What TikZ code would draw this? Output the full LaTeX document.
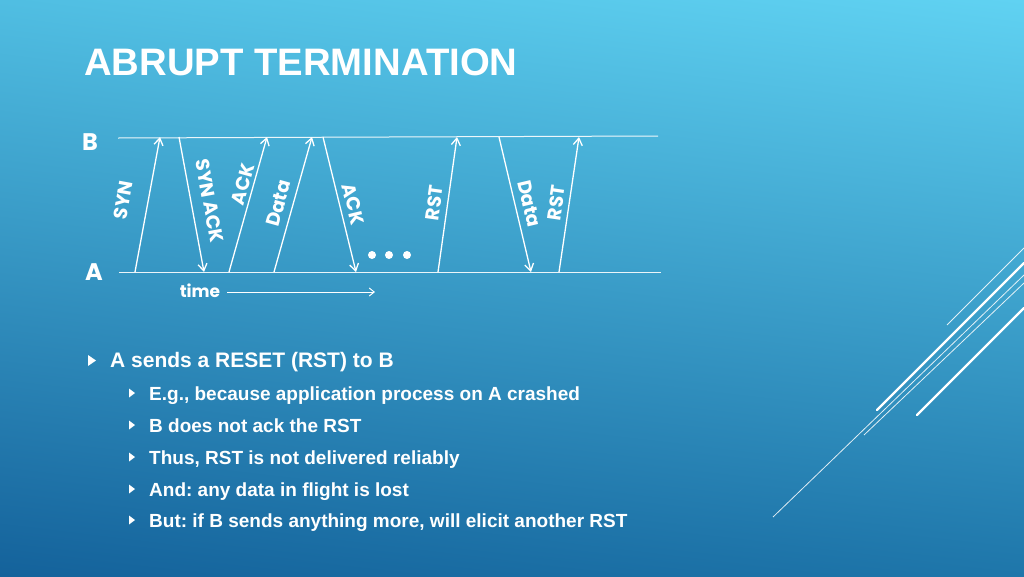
\documentclass[tikz,border=0pt]{standalone}
\usepackage{fontspec}
\setmainfont{Liberation Sans}
\newfontfamily\seqfont{Poppins}
\usetikzlibrary{arrows.meta,shadings}
\definecolor{bgul}{RGB}{80,190,226}
\definecolor{bgur}{RGB}{96,210,242}
\definecolor{bgll}{RGB}{20,98,155}
\definecolor{bglr}{RGB}{30,118,170}
\frenchspacing
\begin{document}
\begin{tikzpicture}[x=1pt,y=-1pt,
  msg/.style={white, line width=1.3pt, -{Straight Barb[length=7pt,width=9pt]}},
  lbl/.style={text=white, font=\seqfont\bfseries\fontsize{19}{19}\selectfont, inner sep=0pt, sloped, pos=.5},
  host/.style={text=white, font=\seqfont\bfseries\fontsize{24}{24}\selectfont, inner sep=0pt},
  axis/.style={white, opacity=.9, line width=1pt},
  item/.style={text=white, anchor=base west, inner sep=0pt, font=\bfseries\fontsize{21}{25}\selectfont},
  subitem/.style={item, font=\bfseries\fontsize{19}{23}\selectfont},
  deco/.style={white, opacity=.85, line width=.8pt},
  decothick/.style={white, line width=2.4pt, line cap=round}]
\useasboundingbox (0,0) rectangle (1024,576);
\shade[upper left=bgul, upper right=bgur, lower left=bgll, lower right=bglr] (0,0) rectangle (1024,576);
% title
\node[text=white, anchor=base west, inner sep=0pt, font=\bfseries\fontsize{38.3}{40}\selectfont] (title) at (84,75) {ABRUPT TERMINATION};
% hosts and time lines
\node[host] (hostB) at (90,142) {B};
\node[host] (hostA) at (94,272) {A};
\coordinate (bL) at (118,138);
\coordinate (bR) at (658,136);
\coordinate (aL) at (119,272);
\coordinate (aR) at (661,272);
\draw[axis] (bL) -- (bR);
\draw[axis] (aL) -- (aR);
% message end points
\coordinate (a1) at (135,272);  \coordinate (b1) at (160,137);
\coordinate (b2) at (179,137);  \coordinate (a2) at (204,272);
\coordinate (a3) at (229,272);  \coordinate (b3) at (267,137);
\coordinate (a4) at (274,272);  \coordinate (b4) at (312,137);
\coordinate (b5) at (323,137);  \coordinate (a5) at (356,272);
\coordinate (a6) at (438,272);  \coordinate (b6) at (457,137);
\coordinate (b7) at (499,137);  \coordinate (a7) at (531,272);
\coordinate (a8) at (559,272);  \coordinate (b8) at (579,137);
% messages
\draw[msg] (a1) -- node[lbl, above=17pt] {SYN} (b1);
\draw[msg] (b2) -- node[lbl, above=11pt] {SYN ACK} (a2);
\draw[msg] (a3) -- node[lbl, pos=.63, above=3pt] {ACK} (b3);
\draw[msg] (a4) -- node[lbl, pos=.48, above=7pt] {Data} (b4);
\draw[msg] (b5) -- node[lbl, pos=.52, above=6pt] {ACK} (a5);
\draw[msg] (a6) -- node[lbl, above=6pt] {RST} (b6);
\draw[msg] (b7) -- node[lbl, pos=.52, above=6.5pt] {Data} (a7);
\draw[msg] (a8) -- node[lbl, above=5.5pt] {RST} (b8);
\foreach \x in {372,389,407}
  \fill[white] (\x,255) circle (4);
% time axis
\node[text=white, inner sep=0pt, font=\seqfont\bfseries\fontsize{17}{17}\selectfont] (time) at (200,291) {time};
\coordinate (tEnd) at (375,292);
\draw[white, line width=1pt, -{Straight Barb[length=5pt,width=8pt]}] ([xshift=7pt]time.east |- tEnd) -- (tEnd);
% bullets
\fill[white] (88,355) -- (96,360.5) -- (88,366) -- cycle;
\node[item] (b0) at (110,367.5) {A sends a RESET (RST) to B};
\foreach \y/\t [count=\i] in {400/{E.g., because application process on A crashed},
    432/{B does not ack the RST},
    464/{Thus, RST is not delivered reliably},
    496/{And: any data in flight is lost},
    527/{But: if B sends anything more, will elicit another RST}} {
  \fill[white] (129,\y-11.5) -- (135,\y-7) -- (129,\y-2.5) -- cycle;
  \node[subitem] (s\i) at (149,\y) {\t};
}
% corner decoration
\draw[deco] (947,325) -- (1024,248);
\draw[decothick] (877,410) -- (1024,263);
\draw[deco] (773,517) -- (1024,275);
\draw[deco] (864,435) -- (1024,283);
\draw[decothick] (917,415) -- (1024,308);
\end{tikzpicture}
\end{document}
